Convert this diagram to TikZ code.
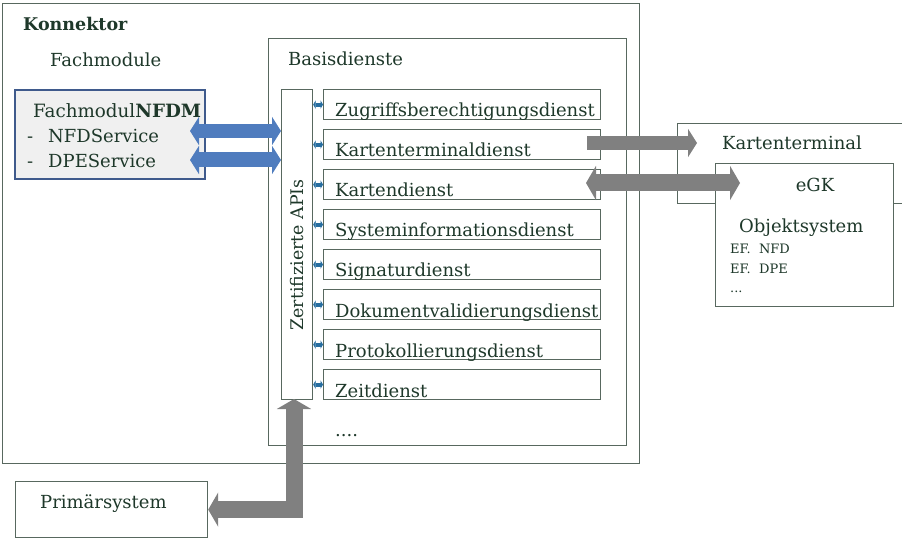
\documentclass[tikz,border=0pt]{standalone}
\usepackage{fontspec}
\setmainfont{DejaVu Serif}
\usetikzlibrary{arrows.meta}
\definecolor{txt}{RGB}{30,56,42}
\definecolor{ln}{RGB}{88,104,95}
\definecolor{fmb}{RGB}{63,90,140}
\definecolor{fmfill}{RGB}{240,240,240}
\definecolor{blu}{RGB}{79,124,190}
\definecolor{gry}{RGB}{128,128,128}
\definecolor{conncol}{RGB}{40,110,160}
\begin{document}
\begin{tikzpicture}[x=1pt,y=-1pt,
  font=\fontsize{18}{20}\selectfont, text=txt,
  frame/.style={draw=ln, line width=1.2pt, inner sep=0pt, anchor=north west},
  lbl/.style={anchor=base west, inner sep=0pt},
  svc/.style={frame, minimum width=277pt, minimum height=30pt},
  bluearrow/.style={draw=blu, line width=14pt,
    {Triangle[length=9pt,width=28pt]}-{Triangle[length=9pt,width=28pt]}},
  grayone/.style={draw=gry, line width=14pt, -{Triangle[length=9pt,width=28pt]}},
  graytwo/.style={draw=gry, line width=17pt, line join=miter,
    {Triangle[length=10pt,width=34pt]}-{Triangle[length=10pt,width=34pt]}},
  conn/.style={draw=conncol, line width=4pt,
    {Triangle[length=2.5pt,width=8.5pt]}-{Triangle[length=2.5pt,width=8.5pt]}},
  small/.style={font=\fontsize{13}{15}\selectfont}
]
\clip (0,0) rectangle (902,545);
% containers
\node[frame, minimum width=637pt, minimum height=460pt] (kon) at (2,3) {};
\node[frame, minimum width=358pt, minimum height=407pt] (bd) at (268,38) {};
\node[frame, draw=fmb, fill=fmfill, line width=2.4pt, minimum width=190pt, minimum height=89pt] (fm) at (14,89) {};
\node[frame, minimum width=31pt, minimum height=310pt] (api) at (281,89) {};
% services
\node[svc] (s1) at (323,89) {};
\node[svc] (s2) at (323,129) {};
\node[svc] (s3) at (323,169) {};
\node[svc] (s4) at (323,209) {};
\node[svc] (s5) at (323,249) {};
\node[svc] (s6) at (323,289) {};
\node[svc] (s7) at (323,329) {};
\node[svc] (s8) at (323,369) {};
% external
\node[frame, minimum width=240pt, minimum height=80pt] (kt) at (677,123) {};
\node[frame, fill=white, minimum width=178pt, minimum height=143pt] (egk) at (715,163) {};
\node[frame, minimum width=192pt, minimum height=56pt] (ps) at (15,481) {};

% texts
\node[lbl, font=\fontsize{17.5}{19}\selectfont\bfseries] (tkon) at (23,31) {Konnektor};
\node[lbl] (tfm) at (50,67) {Fachmodule};
\node[lbl] (tbd) at (288,66) {Basisdienste};
\node[lbl, font=\fontsize{18.3}{20}\selectfont] (tfm1) at (33,118) {Fachmodul\textbf{NFDM}};
\node[lbl] (d1) at (27,143) {-};
\node[lbl] (tfm2) at (48,143) {NFDService};
\node[lbl] (d2) at (27,168) {-};
\node[lbl] (tfm3) at (48,168) {DPEService};
\node[rotate=90, inner sep=0pt, font=\fontsize{17.4}{19}\selectfont] (tapi) at (297,255) {Zertifizierte APIs};
\node[lbl] (t1) at (335,117) {Zugriffsberechtigungsdienst};
\node[lbl] (t2) at (335,157) {Kartenterminaldienst};
\node[lbl] (t3) at (335,197) {Kartendienst};
\node[lbl] (t4) at (335,237) {Systeminformationsdienst};
\node[lbl] (t5) at (335,277) {Signaturdienst};
\node[lbl] (t6) at (335,317) {Dokumentvalidierungsdienst};
\node[lbl] (t7) at (335,357) {Protokollierungsdienst};
\node[lbl] (t8) at (335,397) {Zeitdienst};
\node[lbl] (tdots) at (335,436) {....};
\node[lbl] (tkt) at (722,150) {Kartenterminal};
\node[anchor=base, inner sep=0pt] (tegk) at (815,192) {eGK};
\node[lbl] (tobj) at (739,233) {Objektsystem};
\node[lbl, small] (ef1) at (730,254) {EF.\ \ NFD};
\node[lbl, small] (ef2) at (730,274) {EF.\ \ DPE};
\node[lbl, small] (ef3) at (730,293) {...};
\node[lbl] (tps) at (40,508) {Primärsystem};

% small API connectors
\foreach \s in {s1,s2,s3,s4,s5,s6,s7,s8}
  \draw[conn] (api.east |- \s.west) -- (\s.west);

% blue arrows
\coordinate (b1) at (190,131);
\coordinate (b2) at (190,160);
\draw[bluearrow] (b1) -- (api.west |- b1);
\draw[bluearrow, line width=15pt] (b2) -- (api.west |- b2);

% gray arrows
\coordinate (g1s) at (587,143);
\coordinate (g1e) at (697,143);
\draw[grayone] (g1s) -- (g1e);
\coordinate (g2s) at (586,183);
\coordinate (g2e) at (740,183);
\draw[graytwo] (g2s) -- (g2e);
\coordinate (pv) at (294,399);
\draw[graytwo] (pv) |- (ps.east);
\end{tikzpicture}
\end{document}
